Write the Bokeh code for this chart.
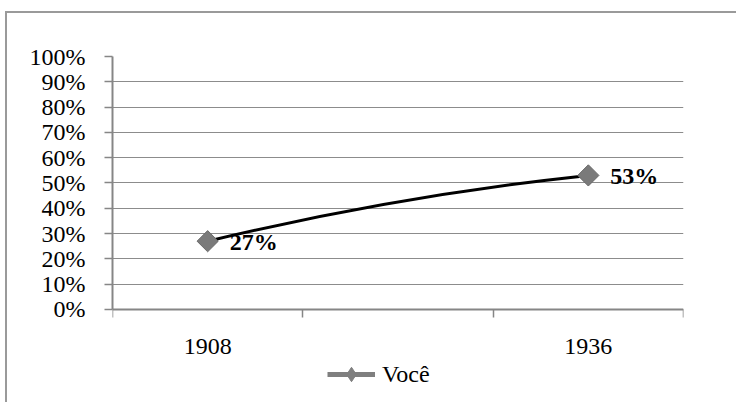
import math
from bokeh.plotting import figure
from bokeh.models import Range1d, FixedTicker, NumeralTickFormatter, Legend, LegendItem
from bokeh.embed import file_html
from bokeh.resources import INLINE
from bokeh.core.properties import value

# ---- data ----
categories = ["1908", "", "1936"]
values = [0.27, None, 0.53]
series_name = "Você"
y_ticks = [0.0, 0.1, 0.2, 0.3, 0.4, 0.5, 0.6, 0.7, 0.8, 0.9, 1.0]

FONT = "Liberation Serif"
AXIS_GRAY = "#868686"

slots = list(range(len(categories)))
xs = [i + 0.5 for i, v in zip(slots, values) if v is not None]
ys = [v for v in values if v is not None]
labels = [f"{round(v * 100)}%" for v in ys]

# frame: top at 43px, 253px per 100%, extends down to hold the category labels and legend
p = figure(width=731, height=391, output_backend="svg", toolbar_location=None,
           x_range=Range1d(0, len(categories)), y_range=Range1d(-0.3755, 1),
           min_border_left=105, min_border_right=55, min_border_top=43, min_border_bottom=0)
p.outline_line_color = None
p.background_fill_color = "white"
p.border_fill_color = "white"
p.styles = {"border-top": "2px solid #9a9a9a", "border-left": "2px solid #9a9a9a",
            "transform": "translate(5px, 11px)"}

# x axis (category axis at 0%)
xa = p.xaxis[0]
xa.fixed_location = 0
xa.ticker = FixedTicker(ticks=[i + 0.5 for i in slots], minor_ticks=list(range(len(categories) + 1)))
xa.major_label_overrides = {i + 0.5: c for i, c in zip(slots, categories)}
xa.major_tick_out = 0
xa.major_tick_in = 0
xa.minor_tick_out = 8
xa.minor_tick_in = 0
xa.minor_tick_line_color = AXIS_GRAY
xa.minor_tick_line_width = 1.5
xa.axis_line_color = AXIS_GRAY
xa.axis_line_width = 2
xa.major_label_standoff = 22
xa.major_label_text_font = FONT
xa.major_label_text_font_size = "24px"
xa.major_label_text_color = "black"

# y axis
ya = p.yaxis[0]
ya.bounds = (0, 1)
ya.ticker = FixedTicker(ticks=y_ticks)
ya.formatter = NumeralTickFormatter(format="0%")
ya.major_tick_out = 8
ya.major_tick_in = 0
ya.minor_tick_out = 0
ya.minor_tick_in = 0
ya.major_tick_line_color = AXIS_GRAY
ya.major_tick_line_width = 1.5
ya.axis_line_color = AXIS_GRAY
ya.axis_line_width = 2
ya.major_label_standoff = 19
ya.major_label_text_font = FONT
ya.major_label_text_font_size = "24px"
ya.major_label_text_color = "black"

p.xgrid.visible = False
p.ygrid.ticker = FixedTicker(ticks=y_ticks)
p.ygrid.grid_line_color = "#8c8c8c"
p.ygrid.grid_line_width = 1

# smoothed series line
p.quadratic(x0=xs[0], y0=ys[0], x1=xs[-1], y1=ys[-1],
            cx=(xs[0] + xs[-1]) / 2, cy=(ys[0] + ys[-1]) / 2 + 0.05,
            line_color="black", line_width=3)

# markers
p.scatter(x=xs, y=ys, marker="square", angle=math.pi / 4, size=15,
          fill_color="#7a7a7a", line_color="#6a6a6a", line_width=1)

# data labels
p.text(x=xs, y=ys, text=labels, x_offset=22, y_offset=1,
       text_align="left", text_baseline="middle",
       text_font=value(FONT), text_font_style="bold", text_font_size="24px",
       text_color="black")

# legend key (gray line + diamond); hidden renderers used only for the legend swatch
lg_line = p.line(x=xs, y=ys, line_color="#7f7f7f", line_width=5, visible=False)
lg_mark = p.scatter(x=xs, y=ys, marker="diamond", size=15,
                    fill_color="#7f7f7f", line_color="#7f7f7f", visible=False)
legend = Legend(items=[LegendItem(label=series_name, renderers=[lg_line, lg_mark])],
                location=(215, 12), orientation="horizontal",
                border_line_color=None, background_fill_alpha=0,
                inactive_fill_alpha=0,
                padding=0, margin=0, spacing=0, label_standoff=7,
                glyph_width=48, glyph_height=36, label_height=36,
                label_text_font=FONT, label_text_font_size="24px",
                label_text_color="black")
p.add_layout(legend, "center")

open("out.html", "w").write(file_html(p, INLINE))
